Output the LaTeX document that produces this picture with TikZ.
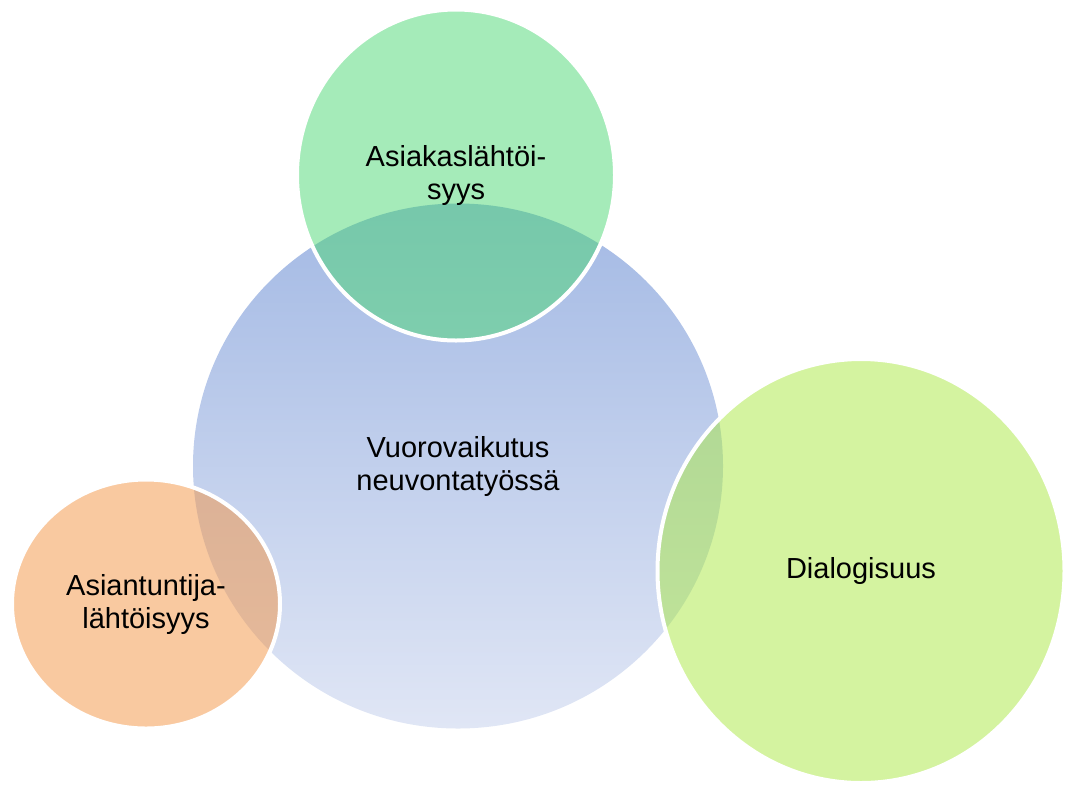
\documentclass[tikz,border=0pt]{standalone}
\usepackage{fontspec}
\setmainfont{Liberation Sans}
\usepackage{tikz}
\usetikzlibrary{shapes.geometric, positioning}
\definecolor{blueTop}{RGB}{163, 185, 228}
\definecolor{blueBottom}{RGB}{224, 230, 245}
\definecolor{green1}{RGB}{75, 215, 115}
\definecolor{orange1}{RGB}{243, 147, 65}
\definecolor{lime1}{RGB}{169, 231, 65}

\begin{document}
\begin{tikzpicture}[
  x=1pt, y=-1pt,
  bubble/.style={ellipse, inner sep=0pt, align=center, font=\fontsize{29}{33}\selectfont},
  side/.style={bubble, draw=white, line width=4pt, fill opacity=0.5, draw opacity=1, text opacity=1}
]
  \useasboundingbox (0, 0) rectangle (1067, 785);

  \node[bubble, minimum width=530pt, minimum height=525pt, top color=blueTop, bottom color=blueBottom] (center) at (458, 466) {Vuorovaikutus\\neuvontatyössä};

  \node[side, fill=green1, minimum width=318pt, minimum height=331pt] (client) at (456, 175) {Asiakaslähtöi-\\syys};
  \node[side, fill=orange1, minimum width=268pt, minimum height=249pt] (expert) at (146, 604) {Asiantuntija-\\lähtöisyys};
  \node[side, fill=lime1, minimum width=407pt, minimum height=424pt] (dialog) at (861, 571) {Dialogisuus};
\end{tikzpicture}
\end{document}
